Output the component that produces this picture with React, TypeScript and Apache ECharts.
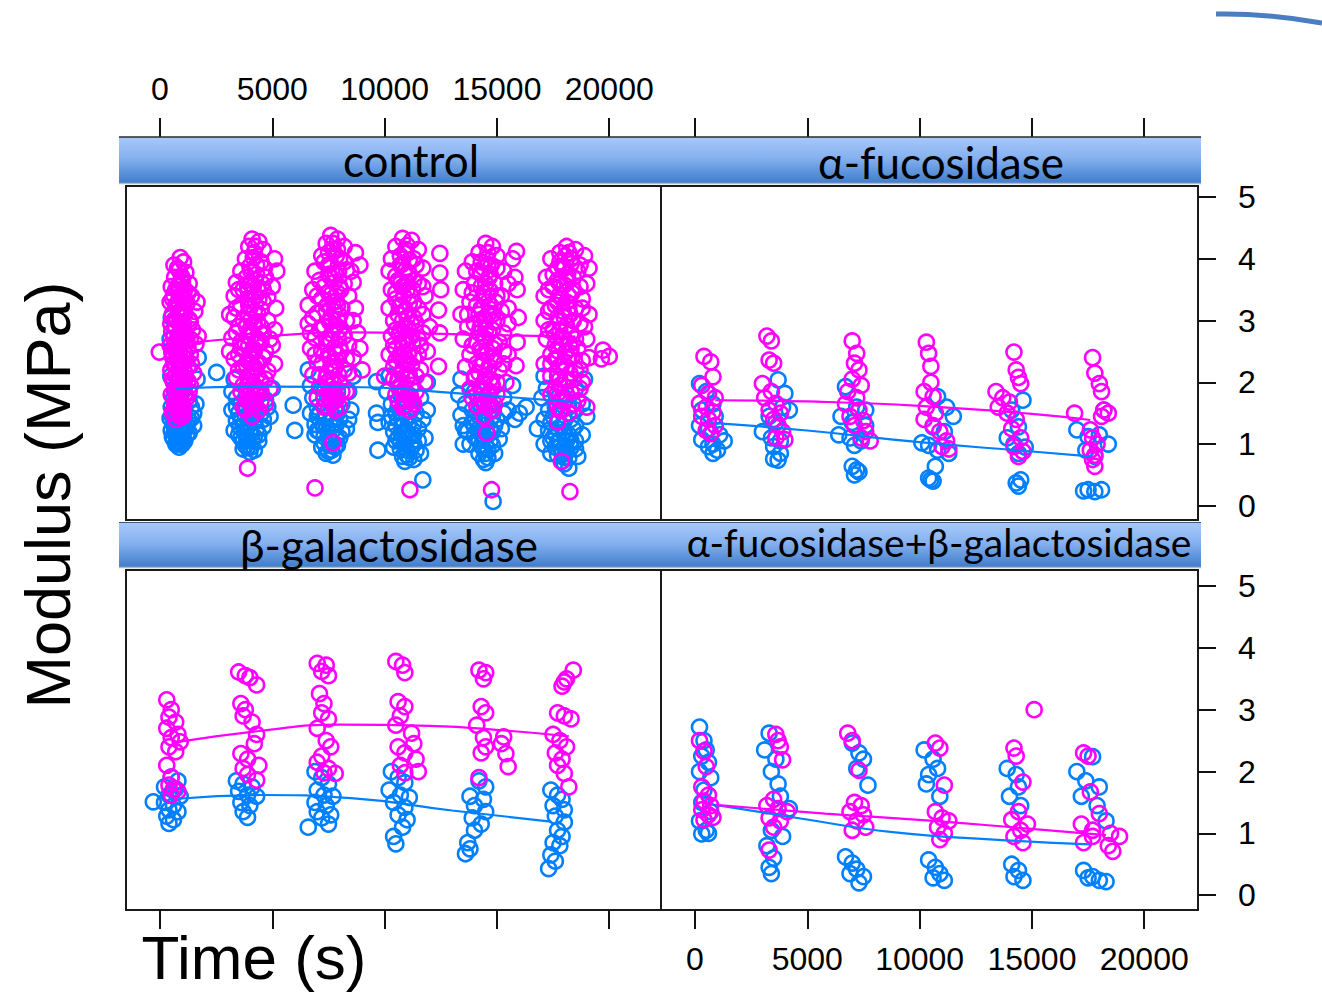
import React, { useEffect, useRef } from "react";
import * as echarts from "echarts";

// ---------- tick labels ----------
const timeTicks = [0, 5000, 10000, 15000, 20000];
const modulusTicks = [0, 1, 2, 3, 4, 5];
const panelTitles = ["control", "α-fucosidase", "β-galactosidase", "α-fucosidase+β-galactosidase"];

// ---------- control ----------
const ctrlBlue: number[][] = [
  [500,3.05],[450,2.7],[1700,2.4],[1650,2.05],[480,2.1],[600,1.75],[900,1.72],[1300,1.7],[1600,1.65],[500,1.6],[1100,1.55],[1500,1.5],[700,1.5],[450,1.42],[950,1.4],[1300,1.38],[600,1.32],[1200,1.3],[800,1.28],[1500,1.3],[500,1.22],[1000,1.2],[700,1.15],[1300,1.18],[900,1.1],[600,1.08],[1100,1.05],[800,1.02],
  [550,1.45],[750,1.35],[1000,1.3],[1400,1.42],[650,1.22],[900,1.2],[1200,1.15],[750,1.05],[1000,1.0],[850,0.95],[1400,1.6],[700,1.65],[1100,1.45],[550,1.12],
  [3300,2.05],[2520,2.16],[3200,1.85],[5000,1.9],[3400,1.75],[4700,1.72],[3600,1.65],[4100,1.6],[3200,1.55],[4500,1.5],[3800,1.45],[4900,1.45],[3400,1.38],[4200,1.35],[3700,1.3],[4600,1.28],[3300,1.22],[4000,1.2],[4400,1.15],[3600,1.1],[4100,1.05],[3800,0.98],[4200,0.9],[3900,0.95],[5930,1.63],[6000,1.22],
  [3500,1.5],[4300,1.5],[4800,1.6],[3900,1.28],[4300,1.25],[3500,1.15],[3900,1.1],[4400,1.05],[3700,1.05],[4000,0.87],[3400,1.6],[4600,1.4],
  [6600,2.2],[8600,2.1],[6700,1.95],[7200,1.9],[8400,1.85],[6800,1.75],[7600,1.7],[8100,1.65],[7000,1.6],[8500,1.55],[6700,1.5],[7400,1.45],[8000,1.4],[6900,1.32],[7700,1.3],[8300,1.25],[7100,1.2],[7500,1.12],[8000,1.1],[7300,1.02],[7800,0.95],[7500,0.88],[7700,0.82],[9640,2.01],[9640,1.5],[9700,1.35],[9700,0.9],
  [7100,1.5],[7900,1.5],[6900,1.15],[7400,1.25],[8100,1.2],[7600,1.05],[7200,0.95],[7900,0.98],[7400,0.85],[8400,1.4],[7300,1.75],[7900,1.85],
  [10200,2.1],[11900,2.0],[10100,1.85],[10700,1.8],[11600,1.75],[10300,1.65],[11200,1.6],[11900,1.55],[10500,1.5],[11000,1.45],[11700,1.4],[10200,1.35],[10800,1.3],[11500,1.25],[10400,1.2],[11100,1.15],[11800,1.1],[10700,1.05],[11300,1.0],[10400,0.95],[11000,0.9],[11600,0.85],[10800,0.8],[11300,0.75],[11700,0.42],
  [10600,1.6],[11400,1.5],[10600,1.4],[11300,1.32],[10900,1.2],[10600,1.1],[11500,1.05],[10900,1.0],[11100,0.78],[11400,0.9],[10300,1.45],[11000,1.7],
  [13400,2.05],[15700,1.95],[13300,1.8],[14000,1.85],[15300,1.75],[13600,1.65],[14600,1.6],[15500,1.55],[13400,1.47],[14200,1.45],[15000,1.4],[13500,1.3],[14400,1.3],[15200,1.25],[13700,1.2],[14600,1.15],[15100,1.08],[14200,1.05],[14800,0.98],[13600,1.22],[14400,0.92],[14900,0.85],[14600,0.78],[14830,0.07],[15800,1.4],[16000,1.5],[16300,1.6],[13500,1.0],
  [13900,1.55],[14800,1.45],[13900,1.35],[14700,1.25],[14000,1.12],[14400,1.12],[14700,1.05],[14200,0.85],[14500,0.7],[13800,1.0],[15300,1.5],[14900,1.3],
  [17100,2.1],[18900,2.05],[17200,1.9],[18500,1.9],[17000,1.75],[17800,1.7],[18800,1.65],[17300,1.55],[18200,1.5],[19000,1.45],[17100,1.4],[17700,1.35],[18500,1.3],[17300,1.22],[18000,1.2],[18800,1.15],[17500,1.1],[18300,1.05],[17100,1.0],[17800,0.95],[18500,0.92],[17400,0.85],[18200,0.78],[18600,0.8],[18200,0.61],[18000,0.68],[16800,1.25],
  [17600,1.6],[18500,1.55],[17500,1.45],[18300,1.4],[17900,1.3],[17600,1.18],[18200,1.15],[17800,1.05],[18500,1.05],[17600,0.95],[18100,0.88],[17900,0.72],
];
const ctrlBlueCore: number[][] = [
  [800,1.5],[950,1.52],[700,1.3],[1050,1.35],[850,1.25],[650,1.4],[950,1.12],[800,1.12],[1150,1.25],[700,1.0],[900,1.0],[1000,1.1],
  [3800,1.62],[4100,1.5],[3600,1.4],[3950,1.35],[4250,1.4],[3750,1.2],[4050,1.15],[3550,1.28],[4200,1.12],[3850,1.05],[4050,0.95],[3700,0.92],
  [7350,1.62],[7800,1.6],[7000,1.45],[7600,1.4],[7250,1.3],[7850,1.32],[7000,1.22],[7650,1.2],[7300,1.12],[7850,1.1],[7550,0.98],[7650,0.9],
  [10800,1.5],[11100,1.55],[10500,1.3],[11050,1.32],[10750,1.18],[11300,1.15],[10500,1.05],[10900,1.1],[11200,0.95],[10700,0.92],[11000,0.82],[10900,0.72],
  [14300,1.6],[14700,1.55],[14000,1.42],[14500,1.38],[14200,1.25],[14800,1.2],[14400,1.15],[14000,1.28],[14600,0.92],[14300,0.98],[14500,0.85],[14400,0.75],
  [17800,1.55],[18200,1.6],[17400,1.35],[18000,1.38],[18400,1.25],[17700,1.25],[18100,1.05],[17400,1.05],[17900,0.85],[18300,0.95],[17700,0.82],[18000,0.78],
];
const ctrlMag: number[][] = [
  [900,4.02],[1050,3.95],[780,3.85],[1150,3.78],[650,3.7],[950,3.72],[1300,3.6],[500,3.55],[820,3.58],[1100,3.5],[600,3.42],[1400,3.4],[900,3.38],[450,3.3],[1200,3.28],[700,3.25],[1000,3.2],[1550,3.15],[550,3.1],[850,3.08],[1300,3.02],[480,2.95],[1050,2.95],[700,2.88],[1450,2.85],[900,2.8],[600,2.72],[1200,2.7],[1600,2.62],[450,2.6],[800,2.58],[1050,2.5],[1350,2.45],[550,2.42],[950,2.35],[700,2.28],[1250,2.25],[480,2.2],[1500,2.15],[850,2.12],[1100,2.05],[600,2.0],[1350,1.95],[750,1.9],[1000,1.85],[500,1.8],[1200,1.75],[850,1.7],[650,1.62],[1050,1.58],[550,1.52],[900,1.45],[700,1.4],[-30,2.49],[1700,2.75],[1650,3.3],
  [620,3.9],[1000,3.62],[700,3.5],[1250,3.45],[560,3.35],[800,3.3],[1100,3.12],[650,3.02],[950,3.05],[1350,2.98],[520,2.82],[800,2.75],[1100,2.78],[1350,2.7],[650,2.6],[950,2.62],[1250,2.55],[520,2.5],[750,2.45],[1150,2.38],[600,2.3],[850,2.25],[1050,2.2],[1400,2.3],[550,2.05],[800,2.0],[1250,2.02],[650,1.85],[950,1.95],[1100,1.78],[700,1.72],[1300,1.85],[600,1.5],[850,1.55],[1000,1.45],[750,1.6],
  [4100,4.32],[4400,4.28],[3950,4.2],[4600,4.15],[4200,4.1],[5100,4.0],[3800,4.0],[4500,3.95],[4000,3.88],[5200,3.8],[3600,3.8],[4300,3.75],[4700,3.7],[3400,3.62],[4000,3.6],[5000,3.55],[3700,3.5],[4400,3.48],[3300,3.4],[4800,3.38],[4100,3.32],[3600,3.25],[5150,3.2],[4500,3.18],[3900,3.1],[3300,3.05],[4800,3.0],[4200,2.95],[3500,2.9],[5100,2.85],[4600,2.8],[3900,2.75],[3200,2.72],[4300,2.65],[5000,2.6],[3600,2.55],[4700,2.5],[4000,2.45],[3300,2.38],[4400,2.32],[5100,2.3],[3700,2.25],[4800,2.18],[4100,2.12],[3400,2.08],[4500,2.02],[3900,1.95],[4900,1.9],[3600,1.85],[4300,1.8],[4000,1.7],[4700,1.65],[3700,1.6],[4400,1.55],[4100,1.45],[3900,0.61],[3100,3.1],[3100,2.5],
  [4250,4.2],[4650,3.85],[3850,3.7],[4150,3.55],[4550,3.6],[3500,3.5],[4250,3.4],[3900,3.35],[4600,3.3],[3400,3.2],[4000,3.2],[4350,3.12],[3700,3.0],[4500,2.9],[4000,2.85],[3400,2.8],[3800,2.62],[4500,2.65],[4150,2.55],[3500,2.45],[3900,2.35],[4600,2.4],[4200,2.25],[3500,2.2],[3900,2.1],[4700,2.05],[4200,1.95],[3700,1.95],[4500,1.85],[3900,1.8],[4200,1.65],[3800,1.55],[4500,1.7],[4600,3.5],[3600,2.65],[4900,2.7],
  [7600,4.38],[7900,4.32],[7400,4.25],[8200,4.2],[7700,4.15],[8700,4.1],[7200,4.05],[8000,4.0],[8900,3.9],[7500,3.9],[6900,3.8],[8300,3.82],[7800,3.75],[7100,3.65],[8600,3.62],[8000,3.55],[6800,3.5],[7500,3.45],[8400,3.4],[7200,3.35],[6600,3.25],[7900,3.25],[8700,3.2],[7000,3.12],[7600,3.05],[8300,3.0],[6600,2.95],[7300,2.9],[8000,2.85],[8800,2.8],[6900,2.72],[7600,2.68],[8400,2.6],[6700,2.55],[7200,2.5],[7900,2.45],[8600,2.4],[7000,2.32],[7600,2.25],[8200,2.2],[6800,2.12],[7400,2.08],[8000,2.0],[7100,1.92],[7700,1.88],[8300,1.85],[7300,1.75],[7800,1.7],[7500,1.6],[7790,1.55],[7700,1.02],[6900,0.29],[8900,2.55],[9000,2.2],
  [7500,4.1],[7900,4.15],[7300,3.95],[8200,3.95],[7600,3.7],[8500,3.8],[7300,3.55],[7900,3.45],[8200,3.6],[7000,3.4],[7700,3.3],[8100,3.2],[7400,3.15],[6800,3.05],[7900,3.02],[7100,2.85],[7700,2.85],[8200,2.75],[7400,2.7],[8000,2.58],[6900,2.45],[7500,2.45],[8300,2.38],[7200,2.3],[7800,2.25],[8400,2.15],[7100,2.12],[7600,2.05],[8100,1.85],[7500,1.85],[7000,1.75],[7600,1.75],[8000,1.6],[7300,1.6],[6700,2.8],[8600,3.0],
  [10800,4.33],[11200,4.3],[10500,4.2],[11500,4.15],[10900,4.1],[10300,4.0],[11300,4.0],[12460,4.09],[10700,3.9],[11700,3.85],[10200,3.8],[11100,3.75],[12460,3.77],[10600,3.65],[11500,3.6],[10300,3.5],[11000,3.5],[12500,3.5],[11800,3.4],[10500,3.35],[11300,3.3],[10200,3.2],[12400,3.17],[10900,3.15],[11700,3.1],[10400,3.0],[11200,2.95],[12000,2.9],[10700,2.85],[12450,2.8],[10300,2.75],[11500,2.7],[11000,2.62],[10500,2.55],[11900,2.5],[10200,2.45],[11300,2.4],[10800,2.35],[12400,2.26],[10400,2.25],[11600,2.2],[11100,2.12],[10600,2.05],[11800,2.0],[10900,1.9],[11400,1.85],[10500,1.8],[11200,1.7],[10800,1.6],[11100,1.55],[11125,0.26],[10000,2.1],
  [11000,4.22],[10700,4.05],[11400,3.9],[10900,3.8],[10500,3.72],[11300,3.65],[10800,3.55],[11700,3.55],[10500,3.45],[11200,3.4],[10700,3.25],[11500,3.2],[11000,3.05],[10600,3.1],[11400,2.95],[10900,2.9],[11700,2.8],[10500,2.85],[11200,2.75],[10800,2.65],[11600,2.6],[10400,2.6],[11100,2.5],[10700,2.45],[11500,2.45],[10500,2.35],[11000,2.3],[10800,2.2],[11400,2.1],[10400,2.05],[11200,1.95],[10700,1.95],[11000,1.78],[10600,1.7],[11300,1.65],[10900,1.62],
  [14500,4.25],[14800,4.2],[15870,4.12],[14200,4.1],[15000,4.05],[15700,4.0],[13900,3.95],[14600,3.9],[13600,3.8],[15300,3.8],[14300,3.75],[15800,3.7],[14000,3.6],[14900,3.6],[13500,3.5],[15900,3.5],[14400,3.45],[15200,3.4],[13800,3.3],[14700,3.25],[15500,3.2],[13400,3.1],[14200,3.1],[15950,3.05],[15000,3.0],[13700,2.9],[14500,2.85],[15300,2.8],[13500,2.7],[15900,2.65],[14100,2.65],[14800,2.55],[13800,2.45],[15500,2.45],[14400,2.35],[15850,2.27],[13600,2.25],[15100,2.2],[14000,2.1],[14700,2.05],[15400,2.0],[13800,1.9],[14300,1.85],[15000,1.8],[14600,1.7],[14100,1.62],[14800,1.55],[14400,1.45],[14540,1.18],[14760,0.26],
  [14600,4.1],[14300,3.95],[15000,3.85],[14700,3.75],[14100,3.8],[15500,3.6],[14500,3.6],[13900,3.45],[15000,3.4],[14600,3.3],[14100,3.25],[15200,3.15],[14800,3.1],[13700,3.1],[14500,3.0],[14000,2.95],[15500,2.95],[14800,2.85],[14200,2.8],[15100,2.65],[14500,2.7],[13900,2.6],[15300,2.5],[14300,2.5],[14900,2.35],[14100,2.3],[15300,2.3],[14600,2.2],[14000,2.05],[15000,2.0],[14400,2.0],[14700,1.85],[14100,1.8],[14900,1.65],[14400,1.65],[13900,1.75],
  [18100,4.2],[18500,4.15],[17800,4.1],[18900,4.05],[17400,4.0],[18300,4.0],[19100,3.85],[17700,3.85],[18600,3.8],[17200,3.7],[18100,3.7],[19000,3.6],[17500,3.55],[18400,3.5],[17100,3.4],[18800,3.35],[17900,3.35],[17400,3.2],[18500,3.2],[19100,3.1],[17100,3.0],[18000,3.05],[18700,2.95],[17500,2.85],[18300,2.8],[19000,2.7],[17200,2.7],[17900,2.6],[18600,2.55],[17400,2.45],[18200,2.4],[19100,2.4],[17100,2.3],[17800,2.25],[18500,2.2],[17400,2.1],[18100,2.05],[18800,2.0],[17600,1.9],[18300,1.85],[17900,1.75],[18600,1.7],[17700,1.6],[19000,1.6],[18200,1.5],[17700,1.36],[17870,0.72],[18250,0.23],[19720,2.52],[20000,2.42],[19650,2.38],
  [18200,4.1],[17800,3.95],[18700,3.9],[18000,3.85],[17500,3.75],[18400,3.7],[17800,3.6],[18700,3.55],[17300,3.5],[18200,3.4],[17700,3.3],[18800,3.2],[18200,3.2],[17300,3.15],[17700,3.05],[18400,3.0],[18900,2.9],[17800,2.85],[17300,2.85],[18500,2.7],[18000,2.7],[17600,2.6],[18300,2.55],[17700,2.4],[18800,2.35],[17400,2.3],[18100,2.25],[18700,2.2],[17700,2.1],[18400,2.05],[17800,1.95],[18100,1.8],[17400,1.8],[18400,1.65],[17900,1.55],[18700,1.9],
];
const ctrlMagCore: number[][] = [
  [850,3.82],[1000,3.68],[780,3.55],[950,3.42],[1080,3.33],[820,3.2],[980,3.15],[740,3.0],[900,2.92],[1060,2.85],[800,2.68],[960,2.7],[720,2.55],[880,2.5],[1020,2.42],[780,2.35],[940,2.3],[1120,2.15],[860,2.1],[700,2.1],[980,2.0],[820,1.92],[1080,1.88],[900,1.78],[760,1.75],[980,1.65],[820,1.6],[900,1.5],
  [4150,4.02],[4300,3.9],[4050,3.8],[4250,3.65],[3900,3.55],[4150,3.45],[4400,3.35],[3950,3.25],[4200,3.15],[4050,3.02],[4350,2.98],[3850,2.9],[4150,2.78],[4350,2.7],[3950,2.6],[4200,2.5],[4050,2.38],[4300,2.3],[3850,2.28],[4100,2.2],[4350,2.12],[3950,2.02],[4150,1.95],[4400,1.9],[4050,1.82],[4250,1.72],[3900,1.7],[4100,1.6],
  [7700,4.25],[7850,4.05],[7600,3.92],[7950,3.8],[7500,3.75],[7750,3.62],[8050,3.5],[7600,3.42],[7850,3.32],[7450,3.25],[7750,3.15],[8000,3.08],[7550,2.98],[7850,2.92],[7650,2.78],[7950,2.7],[7450,2.62],[7750,2.55],[8050,2.5],[7550,2.4],[7850,2.35],[7650,2.18],[7950,2.12],[7450,2.0],[7750,1.98],[7600,1.82],[7900,1.75],[7650,1.68],
  [10950,4.15],[11100,3.98],[10800,3.92],[11050,3.78],[10700,3.6],[11000,3.62],[11250,3.5],[10850,3.4],[11100,3.28],[10650,3.22],[10950,3.15],[11300,3.05],[10800,3.0],[11050,2.88],[10650,2.78],[10950,2.72],[11250,2.65],[10800,2.55],[11050,2.45],[10650,2.42],[10950,2.38],[11200,2.28],[10750,2.15],[11000,2.05],[10650,1.9],[10900,1.82],[11150,1.78],[10850,1.7],
  [14550,4.0],[14750,3.9],[14400,3.85],[14650,3.7],[14300,3.55],[14700,3.48],[14450,3.38],[14950,3.3],[14300,3.2],[14650,3.12],[14450,3.02],[14850,2.98],[14250,2.88],[14650,2.8],[14400,2.72],[14900,2.62],[14250,2.55],[14550,2.45],[14850,2.4],[14350,2.28],[14650,2.25],[14200,2.15],[14500,2.1],[14800,1.95],[14300,1.92],[14600,1.8],[14300,1.72],[14600,1.6],
  [18050,4.05],[18300,3.92],[17900,3.88],[18150,3.75],[17700,3.65],[18000,3.58],[18350,3.45],[17800,3.42],[18100,3.3],[17600,3.25],[17950,3.15],[18250,3.1],[17800,2.98],[18100,2.92],[17600,2.75],[17900,2.72],[18250,2.62],[17750,2.5],[18050,2.48],[18350,2.42],[17600,2.38],[17950,2.32],[18250,2.15],[17800,2.05],[18050,1.92],[17700,1.82],[18000,1.68],[17800,1.55],
];
const ctrlBlueFit: number[][] = [[700,1.9],[5000,1.93],[9000,1.92],[13000,1.83],[18500,1.68]];
const ctrlMagFit: number[][] = [[700,2.62],[4500,2.74],[8500,2.81],[13000,2.78],[18500,2.74]];

// ---------- α-fucosidase ----------
const fucBlue: number[][] = [
  [200,1.98],[500,1.85],[800,1.65],[300,1.55],[900,1.45],[200,1.3],[600,1.25],[1100,1.15],[300,1.07],[800,1.0],[1300,1.05],[600,0.96],[1000,0.9],[800,0.85],
  [3700,2.04],[4000,1.82],[3900,1.6],[4200,1.55],[3300,1.45],[3600,1.35],[3000,1.2],[3400,1.1],[3800,1.05],[3500,0.96],[3800,0.85],[3500,0.76],[3700,0.74],
  [6700,1.93],[7200,1.6],[7600,1.55],[6500,1.45],[7000,1.35],[7600,1.3],[6400,1.15],[6900,1.1],[7400,1.05],[7100,0.98],[7000,0.64],[7200,0.58],[7100,0.5],[7300,0.55],
  [10800,1.77],[11200,1.6],[11500,1.45],[10600,1.28],[11100,1.2],[10100,1.02],[10400,0.98],[10800,0.9],[11300,0.85],[10700,0.64],[10400,0.45],[10600,0.4],[10500,0.42],
  [14600,1.71],[14100,1.55],[14400,1.28],[13900,1.1],[14200,1.0],[14700,0.95],[14400,0.85],[14500,0.42],[14300,0.37],[14400,0.32],
  [18200,1.55],[17000,1.23],[17500,1.12],[18000,1.15],[18400,1.0],[17400,0.9],[17800,0.8],[17500,0.26],[17800,0.23],[18100,0.26],[17300,0.24],
];
const fucMag: number[][] = [
  [400,2.42],[700,2.33],[800,2.09],[300,1.95],[600,1.82],[900,1.75],[200,1.66],[500,1.6],[800,1.52],[300,1.45],[600,1.4],[900,1.3],[500,1.22],[700,1.17],
  [3200,2.75],[3400,2.67],[3300,2.36],[3500,2.31],[3000,1.98],[3400,1.85],[3100,1.75],[3600,1.66],[3300,1.55],[3800,1.5],[3500,1.4],[3700,1.3],[3900,1.2],[3600,1.1],[4000,1.07],
  [7000,2.67],[7200,2.47],[7100,2.31],[7300,2.2],[7000,2.05],[7400,1.95],[6800,1.85],[7200,1.75],[6700,1.65],[7300,1.55],[6900,1.45],[7500,1.38],[7100,1.3],[7600,1.2],[7400,1.1],[7800,1.05],
  [10300,2.65],[10400,2.47],[10500,2.26],[10500,2.0],[10200,1.85],[10600,1.77],[10300,1.6],[10700,1.5],[10200,1.4],[10600,1.3],[10900,1.2],[11200,1.05],[11000,0.96],[11300,0.92],
  [14200,2.49],[14300,2.2],[14400,2.08],[14500,1.98],[13400,1.85],[13700,1.75],[14000,1.68],[13500,1.6],[13900,1.5],[14300,1.4],[14100,1.25],[14500,1.1],[14200,0.96],[14600,0.88],[14400,0.8],
  [17700,2.4],[17800,2.15],[18000,1.98],[18100,1.85],[16900,1.5],[18200,1.55],[18400,1.5],[17600,1.23],[17700,1.1],[17900,1.0],[17600,0.9],[17800,0.82],[17700,0.75],[17800,0.64],[18100,1.45],
];
const fucBlueFit: number[][] = [[900,1.34],[5000,1.22],[10000,1.03],[15000,0.88],[17600,0.8]];
const fucMagFit: number[][] = [[900,1.71],[5000,1.69],[10000,1.62],[15000,1.49],[17600,1.39]];

// ---------- β-galactosidase ----------
const galBlue: number[][] = [
  [-300,1.51],[500,1.91],[800,1.85],[200,1.75],[700,1.72],[400,1.62],[900,1.6],[200,1.5],[600,1.45],[400,1.38],[800,1.35],[300,1.28],[600,1.22],[400,1.16],
  [3400,1.85],[3700,1.8],[4100,1.75],[3500,1.68],[3900,1.62],[4300,1.6],[3600,1.5],[4000,1.45],[3700,1.35],[3900,1.26],
  [6900,2.0],[7200,1.9],[7500,1.8],[7000,1.7],[7300,1.62],[7700,1.6],[6900,1.5],[7400,1.45],[7000,1.35],[7600,1.3],[7200,1.25],[6600,1.1],[7500,1.15],
  [10300,2.0],[10600,1.9],[10900,1.82],[10200,1.7],[10700,1.62],[11100,1.58],[10400,1.5],[10900,1.42],[10600,1.3],[11000,1.22],[10800,1.1],[10400,0.95],[10500,0.83],
  [14200,1.85],[14500,1.75],[13800,1.6],[14400,1.55],[14000,1.45],[14500,1.35],[13900,1.25],[14300,1.15],[14000,1.05],[13700,0.85],[13800,0.75],[13600,0.67],
  [17400,1.7],[17700,1.62],[17900,1.55],[17500,1.45],[18000,1.38],[17600,1.28],[18000,1.18],[17700,1.05],[17900,0.95],[17500,0.85],[17800,0.8],[17400,0.65],[17600,0.55],[17300,0.43],
];
const galMag: number[][] = [
  [300,3.16],[500,3.0],[400,2.88],[700,2.8],[300,2.7],[800,2.6],[500,2.55],[900,2.48],[400,2.4],[700,2.32],[300,2.1],[500,1.91],[400,1.78],[600,1.72],[800,1.68],[500,1.62],
  [3500,3.61],[3800,3.55],[4000,3.52],[4300,3.4],[3600,3.1],[3800,3.0],[3700,2.9],[4100,2.8],[4300,2.6],[4200,2.45],[3600,2.29],[3900,2.2],[4400,2.1],[3700,2.05],[3900,1.95],[4300,1.86],
  [7000,3.75],[7400,3.72],[7200,3.62],[7500,3.55],[7100,3.26],[7300,3.1],[7200,2.95],[7500,2.85],[7000,2.7],[7400,2.5],[7600,2.4],[7200,2.25],[7000,2.15],[7500,2.05],[7300,1.98],[7800,1.97],
  [10500,3.78],[10800,3.72],[10900,3.6],[10600,3.13],[10900,3.05],[10700,2.9],[10500,2.75],[11200,2.62],[11300,2.45],[10600,2.4],[10900,2.3],[11400,2.2],[10700,2.1],[11500,2.0],[10900,1.98],
  [14200,3.64],[14500,3.6],[14400,3.5],[14300,3.05],[14500,2.95],[14100,2.75],[14400,2.55],[14500,2.4],[14300,2.3],[14200,1.9],[15300,2.56],[15200,2.45],[15400,2.29],[15500,2.08],
  [18400,3.64],[18000,3.45],[17900,3.38],[18100,3.5],[17700,2.95],[18000,2.9],[18300,2.85],[17500,2.6],[17800,2.5],[18100,2.4],[17600,2.3],[17900,2.2],[17700,2.1],[18000,1.97],[18200,1.75],
];
const galBlueFit: number[][] = [[800,1.56],[4500,1.62],[8500,1.57],[13000,1.37],[17400,1.19]];
const galMagFit: number[][] = [[800,2.48],[4500,2.66],[8000,2.76],[12000,2.74],[15500,2.66],[18200,2.57]];

// ---------- α-fucosidase+β-galactosidase ----------
const bothBlue: number[][] = [
  [200,2.72],[400,2.5],[500,2.35],[300,2.25],[600,2.15],[200,2.0],[700,1.9],[400,1.7],[300,1.5],[700,1.35],[200,1.2],[500,1.05],[300,0.99],[600,1.0],
  [3300,2.62],[3100,2.35],[3600,2.2],[3400,2.0],[3700,1.8],[3800,1.6],[4200,1.4],[3400,1.05],[3900,0.95],[3200,0.8],[3500,0.6],[3300,0.45],[3400,0.35],
  [7000,2.46],[7300,2.3],[7500,2.2],[7200,2.05],[7700,1.78],[6700,0.62],[7000,0.52],[7200,0.42],[7500,0.3],[7300,0.2],[6900,0.35],
  [10200,2.35],[10600,2.2],[10800,2.05],[10400,1.95],[10300,1.8],[10900,1.6],[10400,0.57],[10700,0.45],[10900,0.35],[10600,0.28],[11100,0.24],
  [13900,2.05],[14300,1.95],[14400,1.75],[14000,1.6],[14500,1.45],[14100,0.5],[14400,0.4],[14200,0.3],[14600,0.24],
  [17000,2.0],[17700,2.24],[17400,1.85],[18000,1.75],[17200,1.6],[17900,1.45],[18300,1.2],[17300,0.4],[17700,0.3],[18000,0.24],[18300,0.22],[17500,0.28],
];
const bothMag: number[][] = [
  [200,2.5],[400,2.33],[500,2.08],[300,1.75],[600,1.62],[400,1.52],[700,1.45],[300,1.38],[600,1.3],[800,1.26],[400,1.22],
  [3600,2.6],[3700,2.5],[3800,2.4],[3900,2.19],[3500,1.55],[3200,1.45],[3700,1.4],[4100,1.35],[3300,1.25],[3800,1.2],[3500,1.1],[3300,0.73],
  [6800,2.62],[7000,2.5],[7300,2.02],[7100,1.5],[7400,1.45],[6900,1.35],[7500,1.3],[7200,1.2],[7000,1.05],[7600,1.1],
  [10700,2.46],[10900,2.38],[11100,1.78],[10700,1.35],[11000,1.25],[11300,1.2],[10800,1.1],[11100,1.0],[10900,0.9],
  [15100,3.0],[14200,2.38],[14300,2.25],[14600,1.83],[14400,1.35],[14100,1.22],[14800,1.15],[14500,1.05],[14200,0.95],[14600,0.85],
  [17300,2.3],[17500,2.25],[17600,1.67],[18000,1.32],[17200,1.15],[17700,1.05],[18500,1.0],[18900,0.95],[17300,0.85],[18400,0.8],[17700,0.95],[18600,0.71],
];
const bothBlueFit: number[][] = [[900,1.46],[4700,1.24],[8800,1.02],[13300,0.9],[17600,0.82]];
const bothMagFit: number[][] = [[900,1.46],[5800,1.32],[10300,1.21],[14700,1.08],[18300,0.97]];

// ---------- styling ----------
const BLUE = "#0080ff";
const MAG = "#ff00ff";
const SANS = "'Liberation Sans', Arial, Helvetica, sans-serif";
const STRIP_FONT = "Lato, 'Noto Sans', sans-serif";
const X_MIN = -1514;

const grids = [
  { left: 126, top: 186, width: 535, height: 334 },
  { left: 661, top: 186, width: 537, height: 334 },
  { left: 126, top: 570, width: 535, height: 340 },
  { left: 661, top: 570, width: 537, height: 340 },
];

function buildOption() {
  const fmt = (v: number) => String(v);
  const tickLine = { color: "#111", width: 2 };
  const xAxis = grids.map((g, i) => {
    const isTop = i < 2;
    const showLabel = i === 0 || i === 3;
    return {
      gridIndex: i,
      type: "value",
      min: X_MIN,
      max: X_MIN + g.width * 44.52,
      position: isTop ? "top" : "bottom",
      offset: isTop ? 49 : 0,
      axisLine: { show: false, onZero: false },
      splitLine: { show: false },
      axisTick: { show: true, inside: false, length: 19, customValues: timeTicks, lineStyle: tickLine },
      axisLabel: {
        show: showLabel,
        customValues: timeTicks,
        formatter: fmt,
        fontSize: 32,
        fontFamily: SANS,
        color: "#000",
        margin: isTop ? 32 : 33,
      },
    };
  });
  const yAxis = grids.map((g, i) => {
    const isTop = i < 2;
    const showAxis = i === 1 || i === 3;
    return {
      gridIndex: i,
      type: "value",
      min: isTop ? -0.23 : -0.24,
      max: isTop ? 5.18 : 5.26,
      position: "right",
      axisLine: { show: false, onZero: false },
      splitLine: { show: false },
      axisTick: { show: showAxis, inside: false, length: 18, customValues: modulusTicks, lineStyle: tickLine },
      axisLabel: {
        show: showAxis,
        customValues: modulusTicks,
        formatter: fmt,
        fontSize: 32,
        fontFamily: SANS,
        color: "#000",
        margin: 40,
      },
    };
  });

  const panels = [
    [ctrlBlue.concat(ctrlBlueCore), ctrlBlueFit, ctrlMag.concat(ctrlMagCore), ctrlMagFit],
    [fucBlue, fucBlueFit, fucMag, fucMagFit],
    [galBlue, galBlueFit, galMag, galMagFit],
    [bothBlue, bothBlueFit, bothMag, bothMagFit],
  ];
  const series: any[] = [];
  panels.forEach((p, i) => {
    const [bPts, bFit, mPts, mFit] = p;
    const pts = (data: number[][], color: string) => ({
      type: "scatter",
      xAxisIndex: i,
      yAxisIndex: i,
      data,
      symbol: "circle",
      symbolSize: 15,
      silent: true,
      large: false,
      itemStyle: { color: "rgba(0,0,0,0)", borderColor: color, borderWidth: 2.6, opacity: 1 },
    });
    const fit = (data: number[][], color: string) => ({
      type: "line",
      xAxisIndex: i,
      yAxisIndex: i,
      data,
      smooth: 0.5,
      showSymbol: false,
      silent: true,
      lineStyle: { color, width: 2.2 },
    });
    series.push(pts(bPts, BLUE), fit(bFit, BLUE), pts(mPts, MAG), fit(mFit, MAG));
  });

  const stripFill = () =>
    new echarts.graphic.LinearGradient(0, 0, 0, 1, [
      { offset: 0, color: "#a6c9f9" },
      { offset: 0.45, color: "#86b1f0" },
      { offset: 1, color: "#3f7dcc" },
    ]);

  const graphic: any[] = [
    // strips
    { type: "rect", shape: { x: 119, y: 137, width: 1082, height: 46 }, style: { fill: stripFill() }, z: 10 },
    { type: "rect", shape: { x: 119, y: 523, width: 1082, height: 44 }, style: { fill: stripFill() }, z: 10 },
    { type: "line", shape: { x1: 119, y1: 137, x2: 1201, y2: 137 }, style: { stroke: "#2a2a2a", lineWidth: 1.5 }, z: 11 },
    { type: "line", shape: { x1: 119, y1: 183.5, x2: 1201, y2: 183.5 }, style: { stroke: "#b8b8b8", lineWidth: 1.5 }, z: 11 },
    { type: "line", shape: { x1: 119, y1: 522.5, x2: 1201, y2: 522.5 }, style: { stroke: "#3a5a88", lineWidth: 1 }, z: 11 },
    { type: "line", shape: { x1: 119, y1: 567.5, x2: 1201, y2: 567.5 }, style: { stroke: "#b8b8b8", lineWidth: 1.5 }, z: 11 },
    // strip texts
    { type: "text", x: 411, y: 160, style: { text: panelTitles[0], font: `44px ${STRIP_FONT}`, fill: "#000", align: "center", verticalAlign: "middle" }, z: 12 },
    { type: "text", x: 941, y: 162, style: { text: panelTitles[1], font: `44px ${STRIP_FONT}`, fill: "#000", align: "center", verticalAlign: "middle" }, z: 12 },
    { type: "text", x: 389, y: 545, style: { text: panelTitles[2], font: `44px ${STRIP_FONT}`, fill: "#000", align: "center", verticalAlign: "middle" }, z: 12 },
    { type: "text", x: 939, y: 542, style: { text: panelTitles[3], font: `39px ${STRIP_FONT}`, fill: "#000", align: "center", verticalAlign: "middle" }, z: 12 },
    // axis titles
    { type: "text", x: 48, y: 495, rotation: Math.PI / 2, style: { text: "Modulus (MPa)", font: `63px ${SANS}`, fill: "#000", align: "center", verticalAlign: "middle" }, z: 12 },
    { type: "text", x: 254, y: 957, style: { text: "Time (s)", font: `62px ${SANS}`, fill: "#000", align: "center", verticalAlign: "middle" }, z: 12 },
    // slide decoration arc
    { type: "bezierCurve", shape: { x1: 1216, y1: 14, cpx1: 1265, cpy1: 13, x2: 1322, y2: 23 }, style: { stroke: "#4a7ebf", lineWidth: 5, fill: "none" }, z: 12 },
  ];

  return {
    animation: false,
    backgroundColor: "#fff",
    grid: grids.map((g) => ({ ...g, show: true, borderColor: "#1a1a1a", borderWidth: 2, backgroundColor: "transparent", containLabel: false })),
    xAxis,
    yAxis,
    series,
    graphic,
  };
}

export default function App() {
  const ref = useRef<HTMLDivElement>(null);
  useEffect(() => {
    if (!ref.current) return;
    const chart = echarts.init(ref.current, null, { renderer: "svg" });
    chart.setOption(buildOption() as any);
    return () => chart.dispose();
  }, []);
  return (
    <div
      ref={ref}
      style={{ position: "absolute", left: 0, top: 0, width: 1322, height: 993, background: "#fff" }}
    />
  );
}
